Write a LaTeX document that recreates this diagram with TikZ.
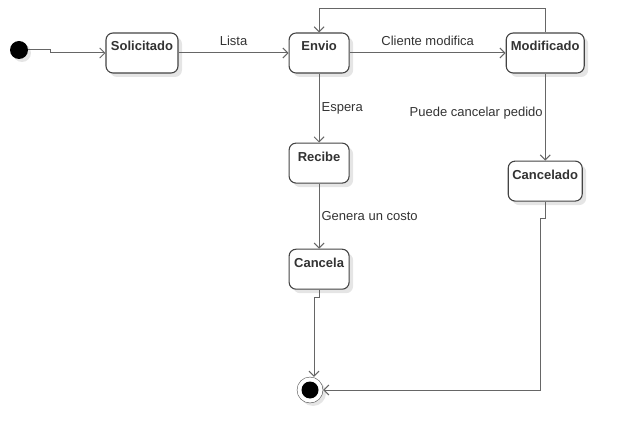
\documentclass[tikz,border=0pt]{standalone}
\usepackage{fontspec}
\setmainfont{Liberation Sans}
\usetikzlibrary{arrows.meta,positioning,shadows}
\definecolor{linegray}{HTML}{666666}
\definecolor{boxgray}{HTML}{444444}
\definecolor{textgray}{HTML}{333333}

\begin{document}
\begin{tikzpicture}[
    x=1pt, y=-1pt,
    state/.style={draw=boxgray, line width=1.1pt, rounded corners=7pt, fill=white,
                  font=\fontsize{13}{15}\selectfont\bfseries, text=textgray,
                  minimum width=60pt, inner xsep=3pt, inner ysep=5pt,
                  text height=13pt, text depth=17pt,
                  drop shadow={shadow xshift=4pt, shadow yshift=-4pt, fill=black!10, opacity=1}},
    initial/.style={circle, fill=black, minimum size=18pt, inner sep=0pt,
                    drop shadow={shadow xshift=3pt, shadow yshift=-3pt, fill=black!10, opacity=1}},
    final/.style={circle, draw=boxgray, fill=white, minimum size=26pt, inner sep=0pt,
                  path picture={\fill[black] (path picture bounding box.center) circle (8.5pt);},
                  drop shadow={shadow xshift=3pt, shadow yshift=-3pt, fill=black!10, opacity=1}},
    flow/.style={draw=linegray, line width=1pt, -{Straight Barb[length=5pt,width=10pt]}},
    lbl/.style={font=\fontsize{13}{15}\selectfont, text=textgray, inner sep=2pt}
]
    \useasboundingbox (0,0) rectangle (623,443);

    \node[initial] (ini) at (19,50) {};
    \node[state, minimum width=72pt] (sol) at (142,53) {Solicitado};
    \node[state, right=110pt of sol] (envio) {Envio};
    \node[state, minimum width=78pt, right=156pt of envio] (mod) {Modificado};
    \node[state, below=69pt of envio] (recibe) {Recibe};
    \node[state, below=65pt of recibe] (cancela) {Cancela};
    \node[state, minimum width=74pt, below=87pt of mod] (cancelado) {Cancelado};
    \node[final] (fin) at (310,390) {};

    \draw[flow] (ini.east) -- ++(22,0) |- (sol.west);
    \draw[flow] (sol) -- node[lbl, above=5pt]{Lista} (envio);
    \draw[flow] (envio) -- node[lbl, above=5pt]{Cliente modifica} (mod);
    \draw[flow] (mod.north) -- ++(0,-24) -| (envio.north);
    \draw[flow] (envio) -- node[lbl, right]{Espera} (recibe);
    \draw[flow] (recibe) -- node[lbl, right]{Genera un costo} (cancela);
    \draw[flow] (mod) -- node[lbl, left, pos=0.45]{Puede cancelar pedido} (cancelado);
    \draw[flow] (cancela.south) -- ++(0,8) -| ([xshift=4pt]fin.north);
    \draw[flow] (cancelado.south) -- ++(0,17) -- ++(-5,0) |- (fin.east);
\end{tikzpicture}
\end{document}
